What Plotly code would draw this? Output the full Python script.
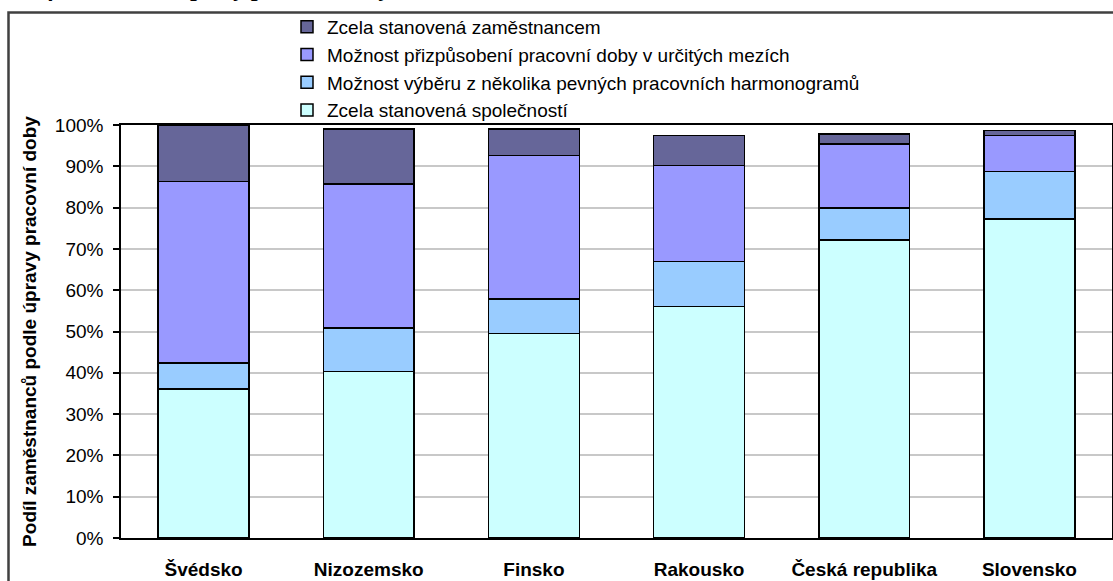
import plotly.graph_objects as go

countries = ["Švédsko", "Nizozemsko", "Finsko", "Rakousko", "Česká republika", "Slovensko"]

series_names = [
    "Zcela stanovená společností",
    "Možnost výběru z několika pevných pracovních harmonogramů",
    "Možnost přizpůsobení pracovní doby v určitých mezích",
    "Zcela stanovená zaměstnancem",
]
company_set = [36.1, 40.3, 49.5, 56.1, 72.1, 77.2]
several_schedules = [6.3, 10.6, 8.4, 10.8, 7.8, 11.5]
flexible_limits = [43.9, 34.8, 34.7, 23.3, 15.5, 8.7]
employee_set = [13.7, 13.3, 6.4, 7.3, 2.4, 1.3]

y_ticks = [0, 10, 20, 30, 40, 50, 60, 70, 80, 90, 100]
y_tick_labels = ["0%", "10%", "20%", "30%", "40%", "50%", "60%", "70%", "80%", "90%", "100%"]
y_title = "Podíl zaměstnanců podle úpravy pracovní doby"
chart_title = "Graf 4: Možnost úpravy pracovní doby"

colors = ["#CCFFFF", "#99CCFF", "#9999FF", "#666699"]
values = [company_set, several_schedules, flexible_limits, employee_set]

W, H = 1113, 581
ML, MR, MT, MB = 121, 1, 125, 43
PW, PH = W - ML - MR, H - MT - MB

def px(x):
    return (x - ML) / PW

def py(y):
    return 1 - (y - MT) / PH

fig = go.Figure()
for name, vals, col in zip(series_names, values, colors):
    fig.add_trace(go.Bar(
        x=countries, y=vals, name=name,
        marker=dict(color=col, line=dict(color="#000000", width=1.5)),
    ))

font_fam = "Arial, Liberation Sans, sans-serif"

fig.update_layout(
    width=W, height=H,
    margin=dict(l=ML, r=MR, t=MT, b=MB, pad=0, autoexpand=False),
    barmode="stack", bargap=0.45,
    paper_bgcolor="white", plot_bgcolor="white",
    font=dict(family=font_fam, size=19, color="#000000"),
    showlegend=True,
    legend=dict(
        x=px(287), y=py(8), xanchor="left", yanchor="top",
        traceorder="reversed",
        font=dict(family=font_fam, size=19, color="#000000"),
        bgcolor="rgba(0,0,0,0)", borderwidth=0,
        itemwidth=30,
    ),
    xaxis=dict(
        showline=True, linecolor="#000000", linewidth=1.5, mirror=True,
        ticks="", tickfont=dict(family=font_fam, size=19, color="#000000", weight="bold"),
        ticklabelstandoff=13,
    ),
    yaxis=dict(
        range=[0, 100], tickvals=y_ticks, ticktext=y_tick_labels,
        showline=True, linecolor="#000000", linewidth=1.5, mirror=True,
        ticks="outside", ticklen=6, tickcolor="#000000", tickwidth=1.5,
        showgrid=True, gridcolor="#C8C8C8", gridwidth=1.5,
        tickfont=dict(family=font_fam, size=19, color="#000000"),
        ticklabelstandoff=6,
        title=dict(text=y_title, font=dict(family=font_fam, size=19, color="#000000", weight="bold"), standoff=13),
    ),
    shapes=[
        dict(type="rect", xref="paper", yref="paper",
             x0=px(8.5), x1=px(1125), y0=py(595), y1=py(12.5),
             line=dict(color="#404040", width=2.5), fillcolor="rgba(0,0,0,0)", layer="below"),
    ],
    annotations=[
        dict(text="<b><i>" + chart_title + "</i></b>", xref="paper", yref="paper",
             x=px(8), y=py(3), xanchor="left", yanchor="bottom", showarrow=False,
             font=dict(family="Liberation Serif, Times New Roman, serif", size=24, color="#000000")),
    ],
)

fig.write_html("out.html", config={"displayModeBar": False},
               post_script="document.body.style.margin='0';document.body.style.overflow='hidden';")
